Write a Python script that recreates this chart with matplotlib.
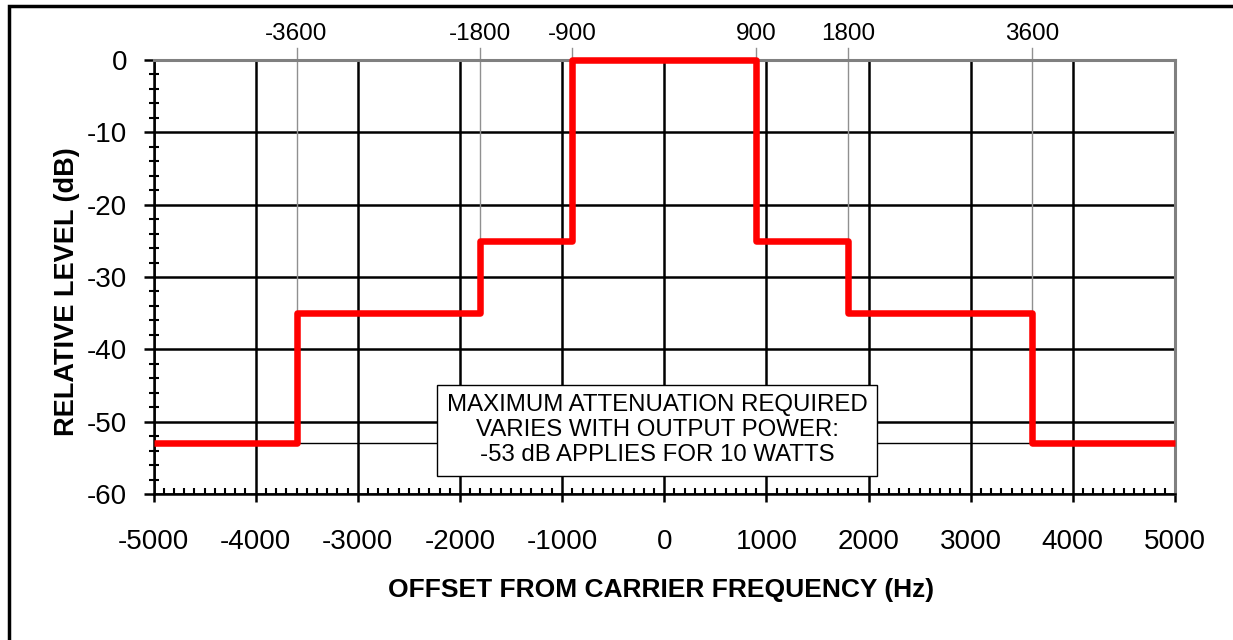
import matplotlib
matplotlib.use("Agg")
import matplotlib.pyplot as plt
import matplotlib.patches as mpatches
import matplotlib.transforms as mtransforms
from matplotlib.ticker import MultipleLocator
import numpy as np

# ---- data ----
edges = [-5000, -3600, -1800, -900, 900, 1800, 3600, 5000]
levels = [-53, -35, -25, 0, -25, -35, -53]
marker_freqs = [-3600, -1800, -900, 900, 1800, 3600]
marker_labels = ["-3600", "-1800", "-900", "900", "1800", "3600"]
max_atten = -53
x_ticks = [-5000, -4000, -3000, -2000, -1000, 0, 1000, 2000, 3000, 4000, 5000]
y_ticks = [0, -10, -20, -30, -40, -50, -60]
note = "MAXIMUM ATTENUATION REQUIRED\nVARIES WITH OUTPUT POWER:\n-53 dB APPLIES FOR 10 WATTS"
xlabel = "OFFSET FROM CARRIER FREQUENCY (Hz)"
ylabel = "RELATIVE LEVEL (dB)"

plt.rcParams['font.family'] = ['Liberation Sans', 'DejaVu Sans']
plt.rcParams['axes.unicode_minus'] = False

W, H = 1233, 640
fig = plt.figure(figsize=(W / 100, H / 100), dpi=100)
ax = fig.add_axes([153.5 / W, 1 - 494 / H, (1175 - 153.5) / W, (494 - 60) / H])

ax.set_xlim(-5000, 5000)
ax.set_ylim(-60, 0)
ax.set_xticks(x_ticks)
ax.set_yticks(y_ticks)
ax.xaxis.set_minor_locator(MultipleLocator(100))
ax.yaxis.set_minor_locator(MultipleLocator(2))
ax.grid(True, which='major', color='black', linewidth=1.8, zorder=1)

for s in ['left', 'bottom']:
    ax.spines[s].set_color('black')
    ax.spines[s].set_linewidth(1.8)
for s in ['top', 'right']:
    ax.spines[s].set_color('#808080')
    ax.spines[s].set_linewidth(2.2)

ax.tick_params(axis='x', which='major', direction='out', length=6, width=1.8,
               labelsize=20, pad=19)
ax.tick_params(axis='x', which='minor', direction='in', length=4, width=1.5)
ax.tick_params(axis='y', which='major', direction='out', length=7, width=1.8,
               labelsize=20, pad=12)
ax.tick_params(axis='y', which='minor', direction='inout', length=7, width=1.5)

# -53 dB reference line between the outermost steps
ax.plot([edges[1], edges[-2]], [max_atten, max_atten], color='black', lw=1.0, zorder=2)

# gray marker lines from above the plot down to the upper step level
for f in marker_freqs:
    i = edges.index(f)
    upper = max(levels[i - 1], levels[i])
    ax.plot([f, f], [1.66, upper], color='#909090', lw=1.0, clip_on=False, zorder=2)

# step mask
xs = []
ys = []
for i, lv in enumerate(levels):
    xs += [edges[i], edges[i + 1]]
    ys += [lv, lv]
ax.plot(xs, ys, color='#ff0000', lw=4.7, solid_joinstyle='round',
        solid_capstyle='butt', zorder=5, clip_on=False)

# marker labels at top
trans = mtransforms.blended_transform_factory(ax.transData, fig.transFigure)
for f, lab in zip(marker_freqs, marker_labels):
    ax.text(f, 1 - 34 / H, lab, transform=trans, ha='center', va='center', fontsize=17.5)

# annotation box
ax.text(-70, -51.2, note, ha='center', va='center', fontsize=17.3, linespacing=1.17,
        zorder=6,
        bbox=dict(boxstyle='square,pad=0.4', facecolor='white', edgecolor='black', linewidth=1.0))

fig.text(661 / W, 1 - 590 / H, xlabel, ha='center', va='center', fontsize=19, fontweight='bold')
fig.text(67 / W, 1 - 292 / H, ylabel, ha='center', va='center', fontsize=19.5,
         fontweight='bold', rotation=90)

# figure border
fig.patches.append(mpatches.Rectangle((9 / W, -0.1), 2, 1.1 - 6 / H, transform=fig.transFigure,
                                      fill=False, edgecolor='black', linewidth=2.5))

fig.savefig('out.png', dpi=100)
